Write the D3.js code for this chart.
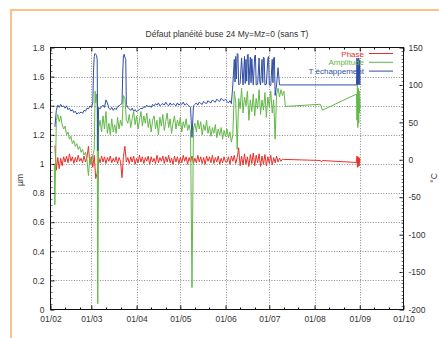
<!DOCTYPE html>
<html><head><meta charset="utf-8">
<script src="https://cdn.jsdelivr.net/npm/d3@7"></script>
<style>body{margin:0;background:#fff}svg{display:block}text{font-family:"Liberation Sans",Arial,sans-serif}</style>
</head><body>
<svg id="c" width="439" height="338"></svg>
<script>
const title = "Défaut planéité buse 24 My=Mz=0 (sans T)";
const leftLabel = "µm";
const rightLabel = "°C";
const monthTicks = ["2009-02-01","2009-03-01","2009-04-01","2009-05-01","2009-06-01","2009-07-01","2009-08-01","2009-09-01","2009-10-01"];
const xTickLabels = ["01/02","01/03","01/04","01/05","01/06","01/07","01/08","01/09","01/10"];
const leftTicks = [0,0.2,0.4,0.6,0.8,1,1.2,1.4,1.6,1.8];
const leftTickLabels = ["0","0.2","0.4","0.6","0.8","1","1.2","1.4","1.6","1.8"];
const rightTicks = [-200,-150,-100,-50,0,50,100,150];
const rightTickLabels = ["-200","-150","-100","-50","0","50","100","150"];
const seriesNames = ["Phase","Amplitude","T échappement"];
const seriesColors = ["#e8312a","#62b848","#2f4ea3"];

// sample days (days after 01/02)
const sampleDays = [
  3,4,5,6,7,8,9,10,11,12,
  13,14,15,16,17,18,19,20,21,22,
  23,24,25,26,27,28,29,30,31,32,
  33,34,35,36,37,38,39,40,41,42,
  43,44,45,46,47,48,49,50,51,52,
  53,54,55,56,57,58,59,60,61,62,
  63,64,65,66,67,68,69,70,71,72,
  73,74,75,76,77,78,79,80,81,82,
  83,84,85,86,87,88,89,90,91,92,
  93,94,95,96,97,98,99,100,101,102,
  103,104,105,106,107,108,109,110,111,112,
  113,114,115,116,117,118,119,120,121,122,
  123,124,125,126,127,128,129,130,131,132,
  133,134,135,136,137,138,139,140,141,142,
  143,144,145,146,147,148,149,150,151,152,
  153,154,155,156,157,158,159,160
];
// Phase (deg, right axis)
const phase = [
  19,-14,3,-12,2,-8,4,-3,5,-4,
  8,-2,4,-5,3,-3,6,-2,2,-4,
  5,-3,3,18,-6,4,-10,6,-25,-18,
  3,-4,5,-3,4,-5,3,-2,5,-4,
  2,-3,4,-5,3,-2,-24,4,18,-3,
  3,-5,4,-3,5,-6,2,-4,6,-3,
  4,-5,3,-2,5,-6,4,-3,2,-5,
  6,-4,3,-2,5,-5,4,-3,6,-4,
  2,-6,5,-3,4,-5,3,-4,6,-2,
  4,-6,3,-3,5,-5,2,-4,6,-3,
  4,-5,3,-6,5,-2,4,-4,6,-5,
  3,-3,5,-6,2,-4,4,-3,-3,4,
  -6,5,-2,6,-5,3,16,-8,5,-7,
  8,-6,4,-9,7,-5,9,-8,6,-4,
  8,-9,5,-6,7,-8,4,-5,6,-7,
  3,-4,5,-3,2,-2,1,0.5
];
const phaseExtra = [[32.4,-12],[185,-0.9],[185.8,-3],[186.5,-1],[209.8,-3.6],[210.1,5],[210.4,-10],[210.7,4],[211.0,-9],[211.3,3],[211.6,-8],[211.9,2],[212.2,-2]];
// Amplitude (µm, left axis)
const amplitude = [
  0.72,1.30,1.34,1.29,1.33,1.27,1.24,1.26,1.20,1.22,
  1.17,1.19,1.14,1.16,1.12,1.14,1.10,1.12,1.08,1.10,
  1.06,1.08,1.03,0.92,1.04,1.00,1.06,1.10,1.42,1.38,
  1.25,1.30,1.22,1.33,1.24,1.36,1.21,1.28,1.20,1.31,
  1.22,1.27,1.21,1.32,1.24,1.30,1.26,1.47,1.45,1.30,
  1.28,1.34,1.25,1.31,1.36,1.27,1.33,1.24,1.30,1.36,
  1.26,1.33,1.28,1.35,1.25,1.31,1.22,1.30,1.33,1.24,
  1.30,1.20,1.32,1.26,1.34,1.23,1.29,1.35,1.25,1.31,
  1.21,1.28,1.33,1.24,1.30,1.26,1.32,1.22,1.29,1.25,
  1.31,1.23,1.27,1.22,0.15,1.24,1.28,1.22,1.30,1.24,
  1.29,1.20,1.27,1.23,1.30,1.21,1.26,1.19,1.25,1.21,
  1.27,1.18,1.24,1.20,1.25,1.17,1.23,1.19,1.24,1.18,
  1.22,1.15,1.20,1.50,1.42,1.10,1.45,1.38,1.52,1.35,
  1.46,1.40,1.50,1.30,1.44,1.36,1.48,1.33,1.45,1.38,
  1.51,1.34,1.44,1.37,1.49,1.32,1.46,1.39,1.50,1.35,
  1.44,1.17,1.48,1.52,1.46,1.51,1.47,1.50
];
const amplitudeExtra = [[2.6,1.0],[30.6,1.50],[31.6,1.48],[32.4,0.04],[161,1.395],[185,1.41],[186.5,1.37],[209.8,1.48],[210.1,1.30],[210.4,1.55],[210.7,1.25],[211.0,1.52],[211.3,1.28],[211.6,1.50],[211.9,1.35],[212.2,1.45]];
// T échappement (°C, right axis)
const temperature = [
  44,66,73,70,74,71,72,69,72,67,
  69,65,67,63,65,61,63,62,64,62,
  66,65,69,68,72,70,76,138,141,134,
  70,68,71,73,70,80,76,69,67,70,
  66,69,67,71,72,74,75,139,137,74,
  70,68,66,69,65,67,64,66,67,69,
  68,71,70,73,71,72,70,74,72,75,
  73,76,72,74,75,73,77,74,72,76,
  73,75,74,72,76,73,75,74,77,73,
  75,74,72,70,30,72,74,76,73,77,
  75,74,78,76,75,79,77,76,80,78,
  77,81,79,78,82,80,79,81,78,76,
  79,75,100,134,138,142,100,102,136,100,
  138,134,140,100,137,135,100,139,100,101,
  136,100,134,137,100,101,135,100,99,134,
  136,86,100,123,100,100,100,100
];
const temperatureExtra = [[29.5,120],[30.5,142],[31.6,139],[32.4,12],[49.6,120],[50.5,141],[51.6,134],
  [126.5,104],[127.5,108],[128.5,141],[133.5,102],[134.5,105],[135.5,141],[137.5,103],[140.5,140],[143.5,104],[145.5,103],[146.5,136],[149.5,138],[152.5,103],[153.5,137],
  [161,100],[209.8,100],[210.1,136],[210.4,100],[210.7,134],[211.0,101],[211.3,136],[211.6,100],[211.9,133],[212.2,100]];

const svg = d3.select("#c");
const L = 50.5, R = 403.5, T = 47.5, B = 309.5;
const parse = d3.utcParse("%Y-%m-%d");
const t0 = parse("2009-02-01").getTime();
const toDate = d => new Date(t0 + d*864e5);
const x = d3.scaleUtc().domain([parse("2009-02-01"), parse("2009-10-01")]).range([L, R]);
const yL = d3.scaleLinear().domain([0,1.8]).range([B,T]);
const yR = d3.scaleLinear().domain([-200,150]).range([B,T]);

// frame
svg.append("rect").attr("x",11).attr("y",10).attr("width",600).attr("height",600)
  .attr("fill","none").attr("stroke","#fbb46c").attr("stroke-width",1.6);

// grid
const monthDates = monthTicks.map(parse);
const g = svg.append("g").attr("stroke","#8a8a8a").attr("stroke-dasharray","1,1.6").attr("stroke-width",1);
leftTicks.slice(1,-1).forEach(v => g.append("line").attr("x1",L).attr("x2",R).attr("y1",Math.round(yL(v))+0.5).attr("y2",Math.round(yL(v))+0.5));
monthDates.slice(1,-1).forEach(d => g.append("line").attr("y1",T).attr("y2",B).attr("x1",Math.round(x(d))+0.5).attr("x2",Math.round(x(d))+0.5));

// series
function build(vals, extra){
  const pts = sampleDays.map((d,i)=>[d, vals[i]]).concat(extra);
  pts.sort((a,b)=>a[0]-b[0]);
  return pts;
}
const lineL = d3.line().x(p=>x(toDate(p[0]))).y(p=>yL(p[1]));
const lineR = d3.line().x(p=>x(toDate(p[0]))).y(p=>yR(p[1]));
const series = [
  {pts: build(phase, phaseExtra), line: lineR},
  {pts: build(amplitude, amplitudeExtra), line: lineL},
  {pts: build(temperature, temperatureExtra), line: lineR}
];
series.forEach((s,i)=>{
  svg.append("path").attr("d", s.line(s.pts)).attr("fill","none")
    .attr("stroke", seriesColors[i]).attr("stroke-width",1).attr("stroke-linejoin","round");
});

// axes
const fs = 8.5;
function styleAxis(sel){
  sel.select(".domain").remove();
  sel.selectAll("line").attr("stroke","#111");
  sel.selectAll("text").style("font-size",fs+"px").style("fill","#333");
}
svg.append("g").attr("transform",`translate(${L},0)`)
  .call(d3.axisLeft(yL).tickValues(leftTicks).tickSize(-4).tickPadding(6).tickFormat((d,i)=>leftTickLabels[i]))
  .call(styleAxis);
svg.append("g").attr("transform",`translate(${R},0)`)
  .call(d3.axisRight(yR).tickValues(rightTicks).tickSize(-4).tickPadding(5).tickFormat((d,i)=>rightTickLabels[i]))
  .call(styleAxis);
svg.append("g").attr("transform",`translate(0,${B})`)
  .call(d3.axisBottom(x).tickValues(monthDates).tickSize(-4).tickPadding(6).tickFormat((d,i)=>xTickLabels[i]))
  .call(styleAxis);
svg.append("g").attr("transform",`translate(0,${T})`)
  .call(d3.axisTop(x).tickValues(monthDates).tickSize(-4).tickFormat(""))
  .call(styleAxis);

// minor ticks
const minorX = [];
monthDates.slice(0,-1).forEach(d => { minorX.push(d3.utcDay.offset(d,10)); minorX.push(d3.utcDay.offset(d,20)); });
const mg = svg.append("g").attr("stroke","#111").attr("stroke-width",1);
minorX.forEach(d => {
  const xx = Math.round(x(d))+0.5;
  mg.append("line").attr("x1",xx).attr("x2",xx).attr("y1",B).attr("y2",B-2);
  mg.append("line").attr("x1",xx).attr("x2",xx).attr("y1",T).attr("y2",T+2);
});
d3.range(0,1.8001,0.04).forEach(v => {
  const yy = Math.round(yL(v))+0.5;
  mg.append("line").attr("x1",L).attr("x2",L+2).attr("y1",yy).attr("y2",yy).attr("stroke","#777");
});
d3.range(-200,150.001,5).forEach(v => {
  const yy = Math.round(yR(v))+0.5;
  mg.append("line").attr("x1",R).attr("x2",R-2).attr("y1",yy).attr("y2",yy).attr("stroke","#777");
});

// border
svg.append("rect").attr("x",L).attr("y",T).attr("width",R-L).attr("height",B-T)
  .attr("fill","none").attr("stroke","#111").attr("stroke-width",1);

// title & axis labels
svg.append("text").attr("x",(L+R)/2).attr("y",37).attr("text-anchor","middle").style("font-size",fs+"px").style("fill","#333").text(title);
svg.append("text").attr("transform","translate(23,180) rotate(-90)").attr("text-anchor","middle").style("font-size",fs+"px").style("fill","#333").text(leftLabel);
svg.append("text").attr("transform","translate(437,178) rotate(-90)").attr("text-anchor","middle").style("font-size",fs+"px").style("fill","#333").text(rightLabel);

// legend
seriesNames.forEach((n,i)=>{
  const yy = 53.5 + i*8.8;
  svg.append("text").attr("x",364).attr("y",yy+3).attr("text-anchor","end")
    .style("font-size","8px").style("fill",seriesColors[i]).text(n);
  svg.append("line").attr("x1",369).attr("x2",393).attr("y1",yy).attr("y2",yy)
    .attr("stroke",seriesColors[i]).attr("stroke-width",1);
});
</script>
</body></html>
